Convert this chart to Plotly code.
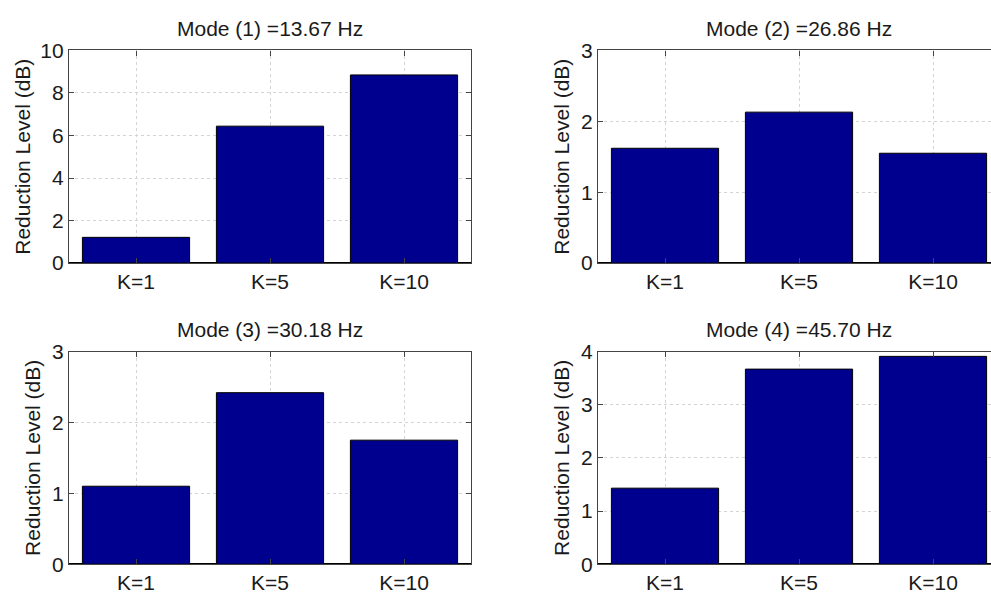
import plotly.graph_objects as go

# Bar groups and measured reduction levels for each vibration mode
categories = ["K=1", "K=5", "K=10"]
mode_labels = ["Mode (1) =13.67 Hz", "Mode (2) =26.86 Hz",
               "Mode (3) =30.18 Hz", "Mode (4) =45.70 Hz"]
mode1_db = [1.21, 6.44, 8.85]
mode2_db = [1.62, 2.13, 1.55]
mode3_db = [1.10, 2.42, 1.75]
mode4_db = [1.43, 3.67, 3.91]
mode1_yticks = [0, 2, 4, 6, 8, 10]
mode2_yticks = [0, 1, 2, 3]
mode3_yticks = [0, 1, 2, 3]
mode4_yticks = [0, 1, 2, 3, 4]

W, H = 991, 605
FONT = "Liberation Sans, Arial, sans-serif"
BAR = "#00008F"
TEXT = "#1a1a1a"

series = [mode1_db, mode2_db, mode3_db, mode4_db]
yticks = [mode1_yticks, mode2_yticks, mode3_yticks, mode4_yticks]
xpos = list(range(1, len(categories) + 1))

# panel boxes in pixels: (left, right, top, bottom, visible x-span in bar units)
panels = [
    (69, 471, 40, 261, 3.0),
    (598, 991, 40, 261, (991 - 598) / 134.0),
    (69, 471, 353, 574, 3.0),
    (598, 991, 353, 574, (991 - 598) / 134.0),
]

fig = go.Figure()
annotations = []
layout = {}
for i, (vals, ticks, (l, r, t, b, span)) in enumerate(zip(series, yticks, panels)):
    n = "" if i == 0 else str(i + 1)
    clipped = span < 3
    fig.add_trace(go.Bar(
        x=xpos, y=vals, width=0.8,
        marker=dict(color=BAR, line=dict(color="#000000", width=1)),
        xaxis="x" + n, yaxis="y" + n, showlegend=False,
    ))
    common = dict(
        showline=True, linecolor="#444444", linewidth=1.2, mirror="allticks",
        ticks="inside", ticklen=5, tickcolor="#444444",
        showgrid=True, gridcolor="#d4d4d4", griddash="dot", gridwidth=1,
        zeroline=False, tickfont=dict(family=FONT, size=21, color=TEXT),
        fixedrange=True,
    )
    layout["xaxis" + n] = dict(
        common, domain=[l / W, r / W], anchor="y" + n,
        range=[0.5, 0.5 + span], tickmode="array",
        tickvals=xpos, ticktext=categories,
    )
    layout["yaxis" + n] = dict(
        common, domain=[1 - b / H, 1 - t / H], anchor="x" + n,
        range=[0, ticks[-1]], tickmode="array", tickvals=ticks,
        zeroline=True, zerolinecolor="#000000", zerolinewidth=2,
        mirror=False if clipped else "allticks",
    )
    # full panel centre (the right-hand panels run past the page edge)
    full_right = l + 3.0 * 134.0 if clipped else r
    cx = (l + full_right) / 2.0
    annotations.append(dict(
        text=mode_labels[i], x=cx / W, y=1 - (t - 23) / H,
        xref="paper", yref="paper", showarrow=False,
        xanchor="center", yanchor="middle",
        font=dict(family=FONT, size=21, color=TEXT),
    ))
    ylab_x = l - (46 if ticks[-1] >= 10 else 36)
    annotations.append(dict(
        text="Reduction Level (dB)", x=ylab_x / W, y=1 - ((t + b) / 2.0) / H,
        xref="paper", yref="paper", showarrow=False, textangle=-90,
        xanchor="center", yanchor="middle",
        font=dict(family=FONT, size=21, color=TEXT),
    ))

fig.update_layout(
    width=W, height=H, margin=dict(l=0, r=0, t=0, b=0),
    paper_bgcolor="white", plot_bgcolor="white",
    annotations=annotations, bargap=0.2, **layout,
)
fig.write_html("out.html")
